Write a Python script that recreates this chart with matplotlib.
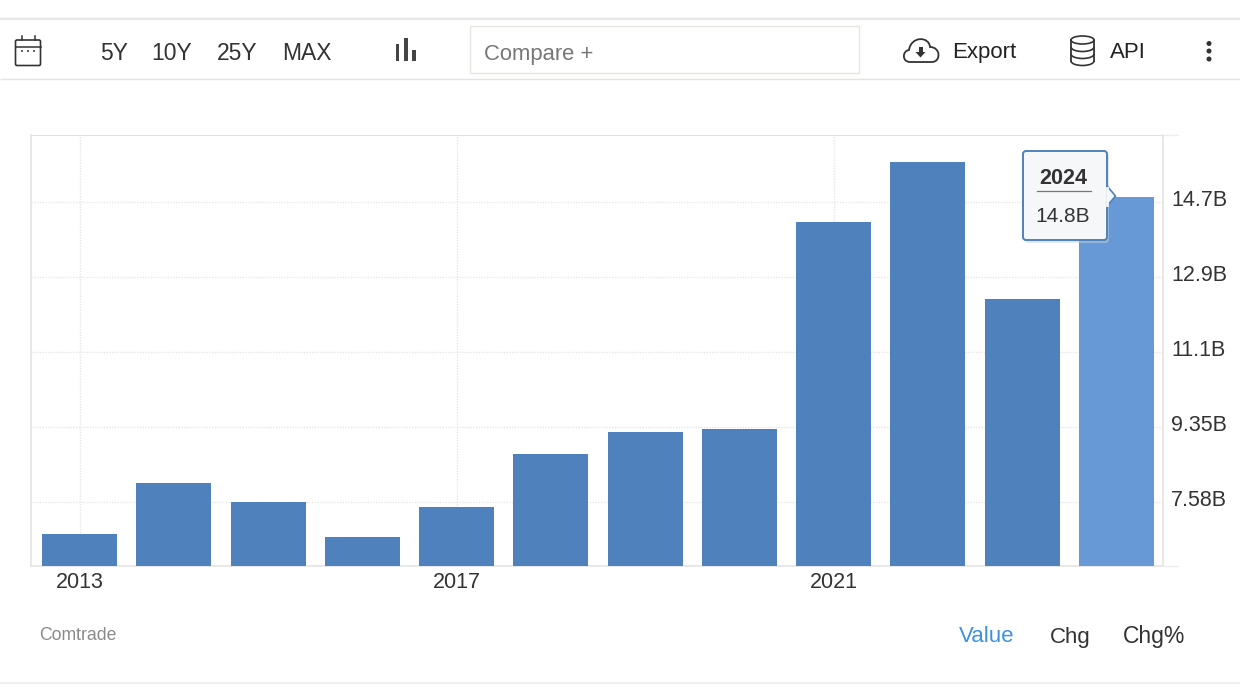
import matplotlib
matplotlib.use("Agg")
import matplotlib.pyplot as plt
from matplotlib.patches import Rectangle, FancyBboxPatch, Polygon, Circle, Ellipse, Arc, PathPatch
from matplotlib.path import Path
from matplotlib.transforms import ScaledTranslation

plt.rcParams['font.family'] = ['Liberation Sans', 'DejaVu Sans']

years = [2013, 2014, 2015, 2016, 2017, 2018, 2019, 2020, 2021, 2022, 2023, 2024]
values = [6.825, 8.03, 7.58, 6.75, 7.46, 8.71, 9.23, 9.30, 14.19, 15.60, 12.37, 14.78]
y_ticks = [7.58, 9.35, 11.12, 12.89, 14.66]
y_tick_labels = ['7.58B', '9.35B', '11.1B', '12.9B', '14.7B']
x_ticks = [2013, 2017, 2021]
range_buttons = ['5Y', '10Y', '25Y', 'MAX']
tooltip_year = '2024'
tooltip_value = '14.8B'

W, H = 1240, 700
fig = plt.figure(figsize=(W / 100, H / 100), dpi=100, facecolor='white')


def px_axes(left, top, right, bottom):
    return fig.add_axes([left / W, 1 - bottom / H, (right - left) / W, (bottom - top) / H])


# Chart
ax = px_axes(31, 135, 1163, 566)
ax.set_xlim(2012.4855, 2024.494)
ax.set_ylim(6.07, 16.24)
ax.set_facecolor('white')
colors = ['#4f81bd'] * (len(years) - 1) + ['#6699d6']
ax.bar(years, values, width=0.795, color=colors, linewidth=0, zorder=3)
ax.set_xticks(x_ticks, [str(x) for x in x_ticks])
ax.set_yticks(y_ticks, y_tick_labels)
ax.yaxis.tick_right()
ax.grid(True, color='#e6e6e6', linestyle=(0, (1, 1)), linewidth=1, zorder=0)
ax.tick_params(axis='both', length=0, labelsize=15.5, colors='#333333')
ax.tick_params(axis='x', pad=4.5)
ax.tick_params(axis='y', pad=6)
up = ScaledTranslation(0, 4 / 100, fig.dpi_scale_trans)
for lab in ax.get_yticklabels():
    lab.set_transform(lab.get_transform() + up)
for side in ['left', 'bottom', 'right']:
    ax.spines[side].set_color('#e4e4e4')
    ax.spines[side].set_linewidth(1.2)
ax.spines['top'].set_color('#e2e2e2')
ax.spines['top'].set_linestyle((0, (1, 1)))

# Overlay in pixel coordinates for page furniture
ov = fig.add_axes([0, 0, 1, 1], zorder=10)
ov.set_xlim(0, W)
ov.set_ylim(H, 0)
ov.axis('off')
ov.patch.set_alpha(0)

INK = '#333333'

# Page rules
for y, c, lw in [(17.5, '#f6f6f6', 1.2), (19, '#e3e3e3', 1.2), (79, '#e3e3e3', 1.0), (683, '#f0f0f0', 1.4)]:
    ov.plot([0, W], [y, y], color=c, lw=lw, solid_capstyle='butt')
ov.plot([1163, 1178], [135, 135], color='#eeeeee', lw=1)
ov.plot([1163, 1178], [566, 566], color='#eeeeee', lw=1)

# Range buttons
for label, x in zip(range_buttons, [114, 172, 237, 306.5]):
    ov.text(x, 54, label, fontsize=16.5, color=INK, ha='center', va='center')

# Calendar icon
ov.add_patch(FancyBboxPatch((15.5, 40), 25, 25.5, boxstyle='round,pad=0,rounding_size=1.5',
                            fc='none', ec=INK, lw=1.2))
ov.plot([15.5, 40.5], [47, 47], color=INK, lw=1.1)
ov.plot([21.5, 21.5], [36, 40], color=INK, lw=1.1)
ov.plot([35, 35], [36, 40], color=INK, lw=1.1)
for x in [22, 28, 34]:
    ov.plot([x - 1.3, x + 1.3], [51, 51], color=INK, lw=1.1, solid_capstyle='butt')

# Bar-chart icon
for x0, wid, top in [(396, 3, 44), (404, 3.5, 38), (412, 4, 50)]:
    ov.add_patch(Rectangle((x0, top), wid, 60.5 - top, fc='#444444', ec='none'))

# Compare box
ov.add_patch(Rectangle((469.5, 26), 389, 47, fc='white', ec='#e6e6e0', lw=1.0))
ov.text(484, 54.5, 'Compare +', fontsize=15.8, color='#777777', ha='left', va='center')

# Export icon: cloud
cloud = Path([(910, 62), (902, 62), (902, 51), (909, 50),
              (911, 36), (929, 36), (930, 47),
              (941, 47), (941, 62), (932, 62),
              (910, 62)],
             [Path.MOVETO, Path.CURVE4, Path.CURVE4, Path.CURVE4,
              Path.CURVE4, Path.CURVE4, Path.CURVE4,
              Path.CURVE4, Path.CURVE4, Path.CURVE4,
              Path.LINETO])
ov.add_patch(PathPatch(cloud, fc='white', ec=INK, lw=1.3))
ov.add_patch(Polygon([(915.5, 52), (925.5, 52), (920.5, 57.5)], fc=INK, ec='none'))
ov.add_patch(Rectangle((918.5, 46.5), 4, 6, fc=INK, ec='none'))
ov.text(952, 52.5, 'Export', fontsize=16, color='#222222', ha='left', va='center')

# API icon: database
ov.plot([1071, 1071], [40, 61], color=INK, lw=1.3)
ov.plot([1094, 1094], [40, 61], color=INK, lw=1.3)
ov.add_patch(Ellipse((1082.5, 40), 23, 8, fc='none', ec=INK, lw=1.2))
for y in [47, 54, 61]:
    ov.add_patch(Arc((1082.5, y), 23, 9, theta1=0, theta2=180, ec=INK, lw=1.2))
ov.text(1110, 52.5, 'API', fontsize=16, color='#222222', ha='left', va='center')

# Kebab menu
for y in [43.5, 51, 59]:
    ov.add_patch(Circle((1209, y), 2.5, fc=INK, ec='none'))

# Footer
ov.text(39, 636, 'Comtrade', fontsize=12.7, color='#8a8a8a', ha='left', va='center')
ov.text(959, 637, 'Value', fontsize=16, color='#3d92e0', ha='left', va='center')
ov.text(1050, 637, 'Chg', fontsize=16, color=INK, ha='left', va='center')
ov.text(1123, 637, 'Chg%', fontsize=16.5, color=INK, ha='left', va='center')

# Tooltip
box = dict(boxstyle='round,pad=0,rounding_size=3')
ov.add_patch(FancyBboxPatch((1025, 153), 84, 90, fc='#c9ced6', ec='none', alpha=0.5, **box))
ov.add_patch(FancyBboxPatch((1023, 151), 84, 89, fc='#f6f7f9', ec='#4f81bd', lw=1.4, **box))
ov.add_patch(Polygon([(1107, 186), (1115.5, 196), (1107, 206)], closed=False,
                     fc='#f6f7f9', ec='#4f81bd', lw=1.2, zorder=3))
ov.plot([1107, 1107], [187.5, 204.5], color='#f6f7f9', lw=2, zorder=4)
ov.text(1063, 178.5, tooltip_year, fontsize=15.5, fontweight='bold', color=INK, ha='center', va='center')
ov.plot([1037, 1091], [191, 191], color='#777777', lw=0.9)
ov.text(1063, 216, tooltip_value, fontsize=15, color=INK, ha='center', va='center')

fig.savefig('out.png', dpi=100, facecolor='white')
